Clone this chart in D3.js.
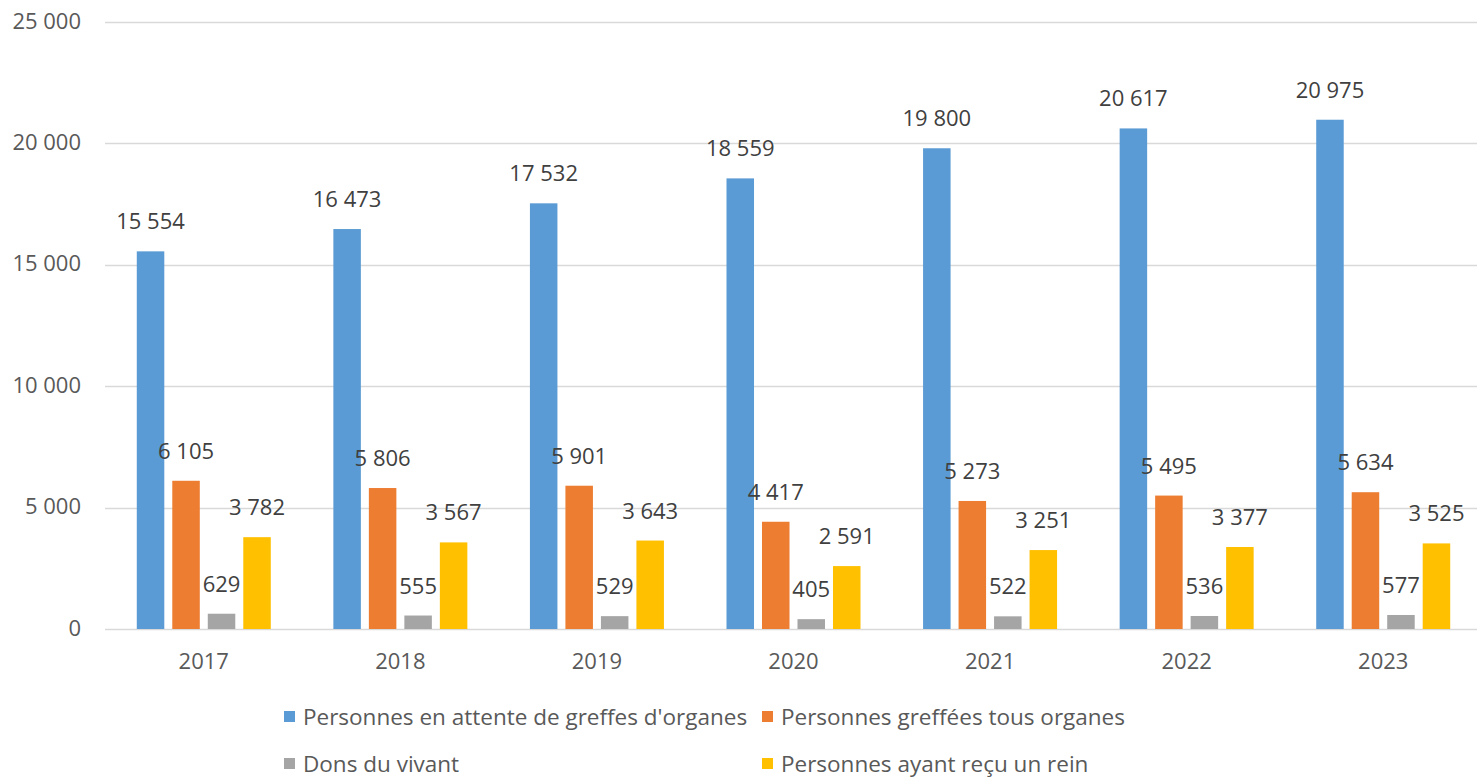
<!DOCTYPE html>
<html>
<head>
<meta charset="utf-8">
<script src="https://cdn.jsdelivr.net/npm/d3@7"></script>
<style>
  body { margin: 0; background: #fff; }
  svg { display: block; font-family: "Open Sans", sans-serif; }
</style>
</head>
<body>
<svg id="chart"></svg>
<script>
// data
var years = ['2017', '2018', '2019', '2020', '2021', '2022', '2023'];
var seriesNames = ["Personnes en attente de greffes d'organes", 'Personnes greffées tous organes',
    'Dons du vivant', 'Personnes ayant reçu un rein'];
var attente = [15554, 16473, 17532, 18559, 19800, 20617, 20975];
var greffees = [6105, 5806, 5901, 4417, 5273, 5495, 5634];
var donsVivant = [629, 555, 529, 405, 522, 536, 577];
var rein = [3782, 3567, 3643, 2591, 3251, 3377, 3525];
var yTicks = [0, 5000, 10000, 15000, 20000, 25000];
var colors = ['#5B9BD5', '#ED7D31', '#A5A5A5', '#FFC000'];

var allSeries = [attente, greffees, donsVivant, rein];

const width = 1477;
const height = 781;

const svg = d3.select('#chart')
    .attr('width', width)
    .attr('height', height);

var x0 = d3.scaleBand()
    .domain(years)
    .range([105.5, 1481.5])
    .padding(0);

var groupW = 134;
var x1 = d3.scaleBand()
    .domain(d3.range(4))
    .range([(x0.bandwidth() - groupW) / 2, (x0.bandwidth() + groupW) / 2])
    .paddingInner(0.225)
    .paddingOuter(0);

var y = d3.scaleLinear()
    .domain([0, 25000])
    .range([629, 22]);

var fmt = v => d3.format(',')(v).replace(/,/g, ' ');

// grid lines
svg.append('g')
    .selectAll('line')
    .data(yTicks)
    .enter()
    .append('line')
    .attr('x1', 105)
    .attr('x2', width)
    .attr('y1', d => Math.round(y(d)) + 0.5)
    .attr('y2', d => Math.round(y(d)) + 0.5)
    .attr('stroke', '#D9D9D9')
    .attr('stroke-width', 1.3);

// y axis labels
svg.append('g')
    .selectAll('text')
    .data(yTicks)
    .enter()
    .append('text')
    .attr('x', 81)
    .attr('y', d => y(d))
    .attr('dy', '0.3em')
    .attr('text-anchor', 'end')
    .style('font-size', '22px')
    .style('fill', '#595959')
    .text(d => fmt(d));

// x axis labels
svg.append('g')
    .selectAll('text')
    .data(years)
    .enter()
    .append('text')
    .attr('x', d => x0(d) + x0.bandwidth() / 2)
    .attr('y', 669)
    .attr('text-anchor', 'middle')
    .style('font-size', '22px')
    .style('fill', '#595959')
    .text(d => d);

// bars
var groups = svg.append('g')
    .selectAll('g')
    .data(years)
    .enter()
    .append('g')
    .attr('transform', d => `translate(${x0(d)},0)`);

var cells = groups.selectAll('g')
    .data((yr, i) => allSeries.map((s, k) => ({ k: k, val: s[i] })))
    .enter()
    .append('g');

cells.append('rect')
    .attr('x', d => x1(d.k))
    .attr('width', x1.bandwidth())
    .attr('y', d => y(d.val))
    .attr('height', d => y(0) - y(d.val))
    .style('fill', d => colors[d.k]);

cells.append('text')
    .attr('x', d => x1(d.k) + x1.bandwidth() / 2)
    .attr('y', d => y(d.val) - 22)
    .attr('text-anchor', 'middle')
    .style('font-size', '22px')
    .style('fill', '#404040')
    .text(d => fmt(d.val));

// legend, two columns
var legend = svg.append('g')
    .selectAll('g')
    .data(seriesNames)
    .enter()
    .append('g')
    .attr('transform', (d, i) => `translate(${i % 2 ? 762 : 284},${i < 2 ? 717 : 764})`);

legend.append('rect')
    .attr('x', 0)
    .attr('y', -6)
    .attr('width', 11)
    .attr('height', 11)
    .style('fill', (d, i) => colors[i]);

legend.append('text')
    .attr('x', 19)
    .attr('y', 0)
    .attr('dy', '0.35em')
    .style('font-size', '22.5px')
    .style('fill', '#595959')
    .text(d => d);
</script>
</body>
</html>
